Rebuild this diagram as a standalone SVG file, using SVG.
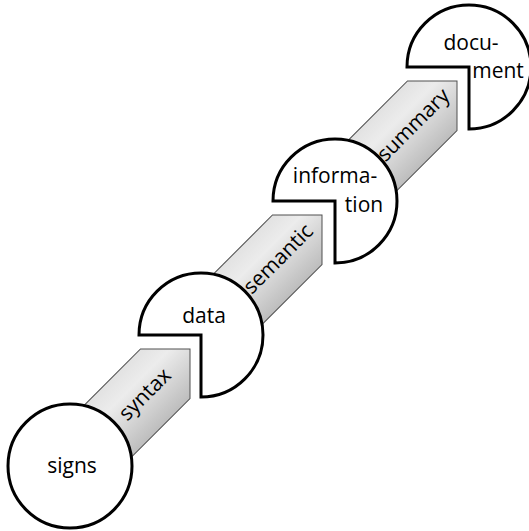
<svg xmlns="http://www.w3.org/2000/svg" width="529" height="531" viewBox="0 0 529 531">
  <style>
    .arrow { stroke: #505050; stroke-width: 1; fill: url(#g); }
    .node { fill: #ffffff; stroke: #000000; stroke-width: 3; stroke-linejoin: miter; }
    text { font-family: "Open Sans", "Liberation Sans", sans-serif; font-size: 21px; fill: #000000; }
    .mid { text-anchor: middle; }
  </style>
  <defs>
    <linearGradient id="g" x1="0" y1="0" x2="0" y2="1">
      <stop offset="0" stop-color="#e2e2e2"/>
      <stop offset="0.3" stop-color="#ececec"/>
      <stop offset="1" stop-color="#bdbdbd"/>
    </linearGradient>
    <polygon id="ar" points="0,0 -35,-35 -150,-35 -150,35 -35,35"/>
  </defs>

  <g id="connectors">
    <g id="syntax" transform="translate(190,349) rotate(-45)">
      <use href="#ar" class="arrow"/>
      <text class="mid" x="-64" y="7">syntax</text>
    </g>
    <g id="semantic" transform="translate(322,215) rotate(-45)">
      <use href="#ar" class="arrow"/>
      <text class="mid" x="-62" y="7">semantic</text>
    </g>
    <g id="summary" transform="translate(457,81) rotate(-45)">
      <use href="#ar" class="arrow"/>
      <text class="mid" x="-62" y="7">summary</text>
    </g>
  </g>

  <g id="signs">
    <circle class="node" cx="70" cy="466" r="62"/>
    <text class="mid" x="72" y="473">signs</text>
  </g>
  <g id="data">
    <path class="node" d="M201,335 L139,335 A62,62 0 1 1 201,397 Z"/>
    <text class="mid" x="204" y="323">data</text>
  </g>
  <g id="information">
    <path class="node" d="M335,201 L273,201 A62,62 0 1 1 335,263 Z"/>
    <text class="mid" x="335" y="183">informa-</text>
    <text class="mid" x="364" y="212">tion</text>
  </g>
  <g id="document">
    <path class="node" d="M469,67 L407,67 A62,62 0 1 1 469,129 Z"/>
    <text class="mid" x="471" y="50">docu-</text>
    <text class="mid" x="498" y="78">ment</text>
  </g>
</svg>
